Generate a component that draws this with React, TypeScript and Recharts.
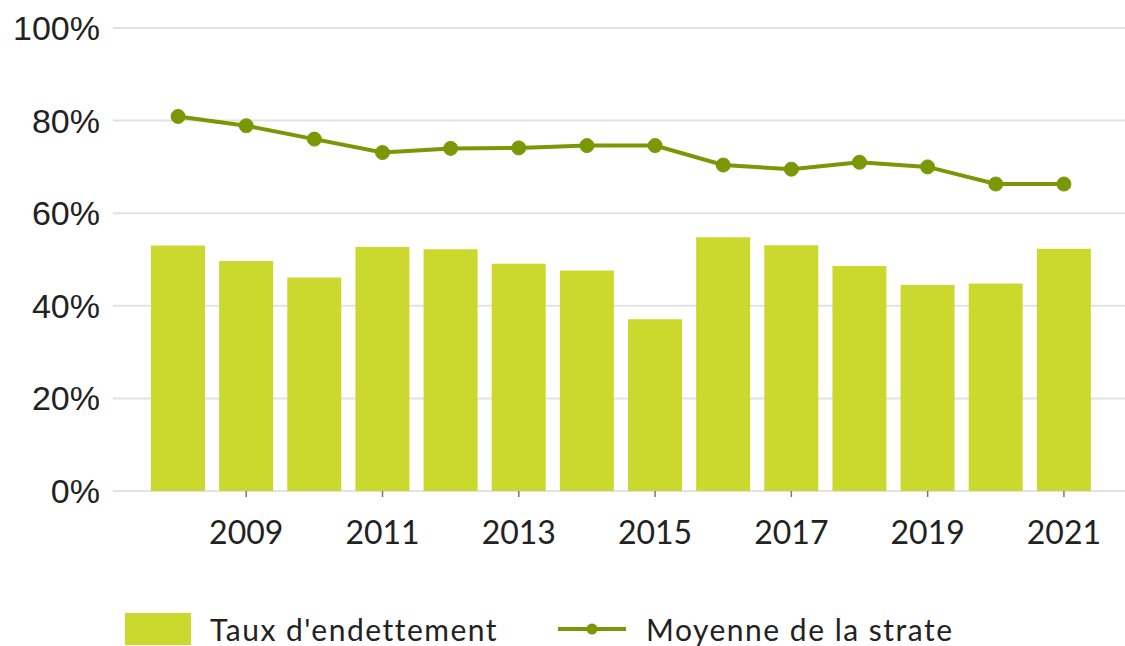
import React from 'react';
import {
  ComposedChart,
  Bar,
  Line,
  XAxis,
  YAxis,
  CartesianGrid,
  Legend
} from 'recharts';

const years = ['2008', '2009', '2010', '2011', '2012', '2013', '2014', '2015', '2016', '2017', '2018', '2019', '2020', '2021'];
const tauxEndettement = [53.0, 49.7, 46.1, 52.7, 52.2, 49.1, 47.6, 37.1, 54.8, 53.1, 48.6, 44.5, 44.8, 52.3];
const moyenneStrate = [80.9, 78.9, 76.0, 73.1, 74.0, 74.1, 74.6, 74.6, 70.4, 69.5, 71.0, 70.0, 66.3, 66.3];
const yearTicks = ['2009', '2011', '2013', '2015', '2017', '2019', '2021'];
const percentTicks = [0, 20, 40, 60, 80, 100];

const BAR_COLOR = '#cbd82e';
const LINE_COLOR = '#7a9805';

const data = years.map((year, i) => ({
  year,
  taux: tauxEndettement[i],
  moyenne: moyenneStrate[i]
}));

// legend drawn by hand so the swatch sizes match
const renderLegend = () => (
  <div style={{ display: 'flex', alignItems: 'center', boxSizing: 'border-box', paddingTop: 40, paddingLeft: 125, height: 75, fontFamily: 'Lato, sans-serif', fontSize: 30, letterSpacing: 1.5, color: '#222' }}>
    <span style={{ width: 66, height: 32, background: BAR_COLOR, display: 'inline-block' }} />
    <span style={{ marginLeft: 19 }}>Taux d'endettement</span>
    <svg width={68} height={20} style={{ marginLeft: 60 }}>
      <line x1={0} y1={10} x2={68} y2={10} stroke={LINE_COLOR} strokeWidth={4} />
      <circle cx={34} cy={10} r={5.5} fill={LINE_COLOR} />
    </svg>
    <span style={{ marginLeft: 20 }}>Moyenne de la strate</span>
  </div>
);

export default function App() {
  document.body.style.margin = '0';
  return (
    <div style={{ width: 1125, height: 646, background: '#fff' }}>
      <ComposedChart width={1125} height={646} data={data} margin={{ top: 28, right: 0, bottom: 0, left: 0 }} barCategoryGap={7}>
        <CartesianGrid vertical={false} stroke="#e2e2e2" strokeWidth={2} />
        <XAxis
          dataKey="year"
          ticks={yearTicks}
          interval={0}
          height={80}
          padding={{ left: 31, right: 27 }}
          axisLine={false}
          tickLine={{ stroke: '#777', strokeWidth: 1.5 }}
          tickSize={6}
          tickMargin={24}
          tick={{ fill: '#222', fontSize: 32, fontFamily: 'Lato, sans-serif' }}
        />
        <YAxis
          domain={[0, 100]}
          ticks={percentTicks}
          width={113}
          axisLine={false}
          tickLine={false}
          tickMargin={7}
          tickFormatter={(v) => `${v}%`}
          tick={{ fill: '#222', fontSize: 34, fontFamily: '"Liberation Sans", Arial, sans-serif' }}
        />
        <Legend verticalAlign="bottom" height={75} content={renderLegend} />
        <Bar dataKey="taux" name="Taux d'endettement" fill={BAR_COLOR} isAnimationActive={false} />
        <Line
          dataKey="moyenne"
          name="Moyenne de la strate"
          stroke={LINE_COLOR}
          strokeWidth={4}
          dot={{ r: 7, fill: LINE_COLOR, stroke: LINE_COLOR, strokeWidth: 1 }}
          activeDot={false}
          isAnimationActive={false}
        />
      </ComposedChart>
    </div>
  );
}
